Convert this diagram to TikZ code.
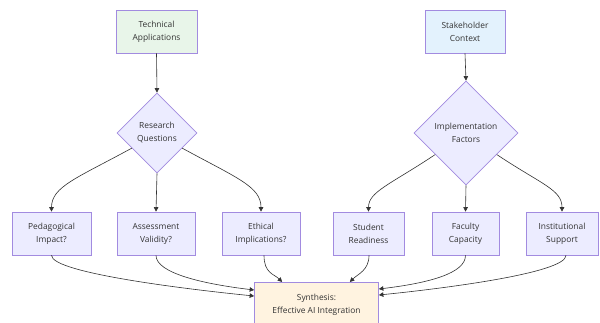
\documentclass[tikz,border=0pt]{standalone}
\usepackage{fontspec}
\setmainfont{Open Sans}
\usetikzlibrary{shapes.geometric,arrows.meta,calc}
\definecolor{strk}{HTML}{A28BE0}
\definecolor{lav}{HTML}{ECECFF}
\definecolor{grn}{HTML}{E8F5E9}
\definecolor{blu}{HTML}{E3F2FD}
\definecolor{org}{HTML}{FFF3E0}
\definecolor{txt}{HTML}{333333}
\tikzset{
  base/.style={draw=strk, line width=0.7pt, text=txt, align=center, inner sep=0pt,
     font=\fontsize{8.4}{13}\selectfont},
  box/.style={base, rectangle, fill=lav, minimum height=43pt},
  dia/.style={base, diamond, aspect=1, fill=lav},
  edge/.style={draw=txt, line width=0.6pt, -{Triangle[length=4.5pt,width=4.5pt]}}
}
\begin{document}
\begin{tikzpicture}[x=1pt,y=-1pt]
\useasboundingbox (0,0) rectangle (600,322);
\fill[white] (0,0) rectangle (600,322);
\begin{scope}
\clip (0,0) rectangle (600,322);
\node[box, fill=grn, minimum width=81pt] (tech) at (156.5,31.5) {Technical\\Applications};
\node[box, fill=blu, minimum width=80pt] (stake) at (465,31.5) {Stakeholder\\Context};
\node[dia, minimum width=80pt, minimum height=80pt] (rq) at (157,133) {Research\\Questions};
\node[dia, minimum width=104pt, minimum height=104pt] (impl) at (466,133) {Implementation\\Factors};
\node[box, minimum width=79pt] (ped) at (51.5,233.5) {Pedagogical\\Impact?};
\node[box, minimum width=78pt] (ass) at (156,233.5) {Assessment\\Validity?};
\node[box, minimum width=78pt] (eth) at (261,233.5) {Ethical\\Implications?};
\node[box, minimum width=71pt] (stu) at (368.5,233.5) {Student\\Readiness};
\node[box, minimum width=67pt] (fac) at (465.5,233.5) {Faculty\\Capacity};
\node[box, minimum width=72pt] (ins) at (562,233.5) {Institutional\\Support};
\node[base, rectangle, fill=org, minimum width=124pt, minimum height=44pt, anchor=north] (syn) at (316.5,282) {Synthesis:\\Effective AI Integration};
\end{scope}
\coordinate (sl1) at ($(syn.north west)+(0,8)$);
\coordinate (sl2) at ($(syn.north west)+(0,14)$);
\coordinate (sr1) at ($(syn.north east)+(0,7)$);
\coordinate (sr2) at ($(syn.north east)+(0,13)$);
\coordinate (st1) at ($(syn.north west)+(28,0)$);
\coordinate (st2) at ($(syn.north east)+(-29,0)$);
\draw[edge] (tech.south) -- (rq.north);
\draw[edge] (stake.south) -- (impl.north);
\draw[edge] (rq.211) .. controls +(-55,30) and +(0,-25) .. (ped.north);
\draw[edge] (rq.south) -- (ass.north);
\draw[edge] (rq.329) .. controls +(55,30) and +(0,-25) .. (eth.north);
\draw[edge] (impl.215) .. controls +(-45,30) and +(0,-20) .. (stu.north);
\draw[edge] (impl.south) -- (fac.north);
\draw[edge] (impl.325) .. controls +(45,30) and +(0,-22) .. (ins.north);
\draw[edge] (ped.south) .. controls +(0,18) and +(-60,-6) .. (sl2);
\draw[edge] (ass.south) .. controls +(0,18) and +(-50,-6) .. (sl1);
\draw[edge] ($(eth.south)+(3,0)$) .. controls +(0,18) and +(-8,-8) .. (st1);
\draw[edge] ($(stu.south)+(0.5,0)$) .. controls +(0,15) and +(8,-8) .. (st2);
\draw[edge] (fac.south) .. controls +(0,18) and +(50,-6) .. (sr1);
\draw[edge] ($(ins.south)+(4,0)$) .. controls +(0,18) and +(60,-6) .. (sr2);
\end{tikzpicture}
\end{document}
